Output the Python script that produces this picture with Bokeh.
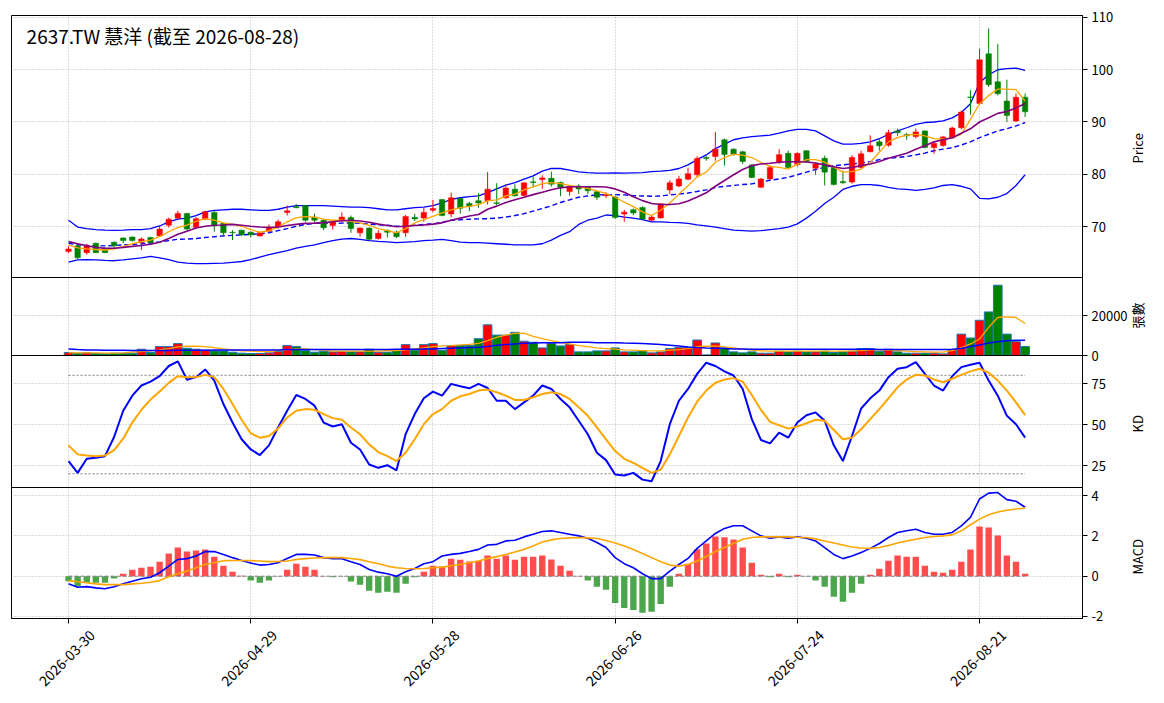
import math
from bokeh.plotting import figure
from bokeh.models import Range1d, FixedTicker, ColumnDataSource, Label, Span, LinearAxis
from bokeh.embed import file_html
from bokeh.resources import INLINE

FONT = "Noto Sans CJK TC"

title_text = "2637.TW 慧洋 (截至 2026-08-28)"
tick_idx = [0, 20, 40, 60, 80, 100]
tick_labels = ["2026-03-30", "2026-04-29", "2026-05-28", "2026-06-26", "2026-07-24", "2026-08-21"]
panel_titles = ["Price", "張數", "KD", "MACD"]

open_ = [65.2, 66.3, 65.0, 66.8, 65.85, 67.0, 67.8, 68.0, 66.9, 67.9,
         68.2, 70.25, 71.6, 72.5, 69.8, 71.4, 72.7, 70.6, 68.9, 69.3,
         68.9, 68.2, 69.1, 69.9, 72.7, 73.8, 74.0, 71.8, 71.2, 70.2,
         71.2, 71.7, 68.8, 69.7, 67.7, 69.25, 68.9, 68.8, 71.75, 71.65,
         73.1, 75.15, 72.4, 75.35, 74.4, 74.95, 74.95, 74.55, 75.5, 77.15,
         75.95, 78.55, 79.0, 79.25, 78.4, 76.7, 77.75, 77.5, 76.65, 75.9,
         75.65, 72.4, 73.2, 73.65, 71.2, 71.65, 77.0, 77.75, 79.05, 79.9,
         83.2, 83.4, 86.6, 84.8, 84.3, 81.75, 77.5, 79.1, 82.3, 84.0,
         81.85, 84.5, 81.15, 83.05, 81.3, 78.6, 78.5, 81.3, 84.3, 86.2,
         85.55, 88.3, 87.6, 87.2, 88.3, 85.1, 85.5, 86.95, 88.9, 94.8,
         93.55, 103.05, 97.7, 94.0, 90.2, 94.75]
high = [66.2, 66.4, 66.7, 66.9, 66.0, 67.1, 67.9, 68.05, 67.9, 68.05,
        70.1, 71.7, 73.0, 72.6, 71.8, 73.0, 73.0, 70.7, 69.3, 69.4,
        69.05, 68.9, 70.4, 71.3, 74.0, 74.3, 74.1, 72.45, 71.45, 71.3,
        72.7, 72.1, 69.8, 69.8, 69.3, 69.45, 69.2, 72.2, 72.45, 73.6,
        75.1, 75.2, 76.5, 75.5, 74.7, 76.35, 80.4, 78.3, 78.1, 78.1,
        78.4, 79.55, 79.8, 80.5, 78.6, 77.8, 78.1, 77.8, 76.85, 76.55,
        75.85, 73.2, 73.45, 73.85, 72.25, 74.45, 78.85, 79.7, 81.25, 83.45,
        83.5, 88.1, 86.85, 84.95, 84.5, 81.95, 79.3, 81.75, 84.8, 84.5,
        84.2, 84.6, 82.3, 83.55, 81.65, 80.7, 83.65, 84.5, 87.45, 86.7,
        88.5, 88.75, 87.95, 88.75, 88.4, 86.2, 87.35, 89.1, 92.2, 96.1,
        104.0, 107.9, 104.95, 98.1, 95.45, 95.45]
low = [64.9, 63.8, 64.6, 64.9, 64.9, 65.85, 66.8, 67.1, 65.5, 66.8,
       68.05, 69.8, 71.45, 69.3, 69.6, 71.2, 69.0, 68.05, 67.4, 68.15,
       67.9, 68.1, 68.95, 69.55, 72.1, 73.5, 70.9, 70.75, 69.3, 69.4,
       70.8, 68.8, 68.05, 67.4, 67.5, 67.9, 67.75, 68.05, 71.05, 70.9,
       72.75, 71.95, 71.8, 72.45, 72.95, 73.6, 74.2, 74.0, 75.3, 75.7,
       75.85, 77.5, 77.2, 77.65, 75.8, 75.9, 76.2, 76.2, 75.1, 75.45,
       71.5, 70.9, 72.15, 71.3, 71.05, 71.5, 76.2, 77.5, 78.85, 79.35,
       82.6, 82.6, 81.65, 83.55, 81.95, 79.25, 77.4, 79.0, 81.95, 81.15,
       81.5, 82.3, 79.9, 77.85, 77.85, 78.2, 78.2, 81.15, 84.2, 84.5,
       85.3, 87.35, 86.6, 86.85, 84.95, 83.9, 85.3, 86.85, 88.6, 91.4,
       93.35, 96.7, 95.1, 90.0, 90.0, 90.95]
close = [65.7, 64.0, 66.3, 65.0, 65.0, 66.3, 67.3, 67.3, 67.6, 66.9,
         69.5, 71.4, 72.5, 69.5, 71.5, 72.8, 70.1, 68.8, 68.8, 68.4,
         68.4, 68.8, 69.9, 70.9, 73.0, 73.6, 71.2, 71.2, 69.75, 70.9,
         71.8, 69.6, 69.7, 67.55, 68.7, 68.9, 68.05, 71.9, 71.45, 72.7,
         73.45, 72.1, 75.5, 73.5, 73.85, 74.5, 77.15, 74.4, 77.35, 75.9,
         78.35, 78.4, 79.3, 78.1, 77.5, 77.6, 77.2, 76.85, 75.6, 76.1,
         71.7, 72.75, 72.6, 71.45, 71.8, 74.35, 78.35, 79.1, 80.1, 83.0,
         83.0, 84.8, 83.8, 83.8, 82.45, 79.4, 79.1, 81.3, 83.75, 81.3,
         84.0, 82.45, 81.95, 80.4, 78.05, 78.35, 83.2, 83.9, 85.45, 85.45,
         87.95, 87.95, 87.35, 88.1, 85.1, 85.9, 87.15, 88.85, 91.9, 94.7,
         101.9, 97.15, 95.4, 91.25, 94.75, 91.95]

ma5 = [66.5, 65.9, 65.7, 65.6, 65.5, 65.7, 66.2, 66.7, 67.1, 67.4,
       68.05, 69.0, 69.8, 70.25, 71.0, 71.5, 71.2, 70.7, 70.4, 70.05,
       69.4, 68.9, 69.2, 69.9, 70.9, 71.7, 71.9, 71.8, 71.4, 71.2,
       71.2, 71.0, 70.7, 70.2, 69.6, 69.2, 68.8, 69.6, 70.7, 71.3,
       71.95, 72.6, 73.2, 73.6, 73.85, 74.2, 74.9, 75.1, 75.85, 76.2,
       77.0, 77.6, 78.2, 78.4, 78.2, 77.85, 77.6, 77.3, 76.8, 76.35,
       75.6, 74.65, 73.8, 72.8, 72.1, 73.1, 74.5, 76.2, 77.8, 79.5,
       80.4, 82.3, 83.2, 83.85, 83.65, 83.2, 82.3, 81.5, 81.3, 81.0,
       81.95, 82.8, 82.8, 82.3, 81.35, 80.4, 80.5, 81.0, 82.3, 84.2,
       86.2, 87.0, 87.5, 87.65, 87.35, 86.8, 86.7, 87.0, 87.65, 90.5,
       93.5, 95.05, 96.3, 96.3, 96.2, 94.0]
ma10 = [67.1, 66.7, 66.3, 66.0, 65.85, 65.85, 66.0, 66.2, 66.35, 66.6,
        67.0, 67.7, 68.5, 69.1, 69.7, 70.05, 70.25, 70.3, 70.4, 70.25,
        70.05, 69.9, 69.8, 69.9, 70.2, 70.4, 70.6, 70.65, 70.75, 70.9,
        71.1, 71.2, 71.05, 70.8, 70.45, 70.2, 69.95, 70.05, 70.2, 70.3,
        70.45, 70.7, 71.2, 71.6, 72.0, 72.3, 73.3, 73.9, 74.6, 75.1,
        75.6, 76.1, 76.55, 77.05, 77.4, 77.6, 77.6, 77.6, 77.6, 77.55,
        77.2, 76.55, 75.7, 74.95, 74.4, 74.2, 74.2, 74.35, 74.9, 75.65,
        76.45, 77.7, 78.8, 79.9, 80.9, 81.65, 81.95, 82.1, 82.3, 82.4,
        82.4, 82.35, 82.15, 81.8, 81.45, 81.1, 81.3, 81.65, 81.95, 82.45,
        83.05, 83.55, 84.0, 84.8, 85.45, 86.2, 86.6, 87.0, 87.85, 88.7,
        90.0, 90.8, 91.65, 92.0, 92.7, 93.55]
ma20 = [66.8, 66.5, 66.35, 66.3, 66.3, 66.35, 66.5, 66.55, 66.7, 66.85,
        67.05, 67.3, 67.55, 67.6, 67.7, 67.9, 68.05, 68.2, 68.3, 68.4,
        68.5, 68.6, 68.8, 69.2, 69.6, 70.05, 70.4, 70.6, 70.6, 70.6,
        70.65, 70.7, 70.6, 70.45, 70.35, 70.25, 70.05, 70.1, 70.25, 70.4,
        70.5, 70.8, 71.2, 71.3, 71.4, 71.45, 71.5, 71.6, 71.8, 72.1,
        72.45, 72.95, 73.45, 73.95, 74.6, 75.1, 75.6, 75.85, 76.05, 76.1,
        76.1, 76.05, 75.9, 75.85, 75.8, 75.85, 76.05, 76.2, 76.4, 76.7,
        77.0, 77.45, 77.7, 77.85, 78.05, 78.15, 78.5, 78.85, 79.1, 79.4,
        79.9, 80.4, 80.9, 81.35, 81.65, 81.8, 81.95, 82.15, 82.4, 82.8,
        83.05, 83.2, 83.4, 83.7, 84.05, 84.5, 84.8, 85.1, 85.6, 86.2,
        87.0, 87.65, 88.3, 88.7, 89.25, 89.9]
bb_upper = [71.2, 69.9, 69.6, 69.4, 69.3, 69.25, 69.3, 69.4, 69.4, 69.6,
            70.1, 70.9, 71.4, 71.6, 72.1, 72.8, 73.1, 73.2, 73.3, 73.3,
            73.2, 73.1, 73.1, 73.3, 73.7, 74.0, 74.0, 74.0, 74.0, 73.9,
            73.8, 73.7, 73.7, 73.6, 73.4, 73.2, 73.2, 73.4, 73.6, 73.7,
            74.0, 74.5, 75.2, 75.5, 75.7, 75.85, 76.5, 77.2, 77.9, 78.4,
            79.05, 79.7, 80.6, 81.1, 81.1, 80.8, 80.45, 80.3, 80.2, 80.2,
            80.25, 80.2, 80.25, 80.3, 80.5, 80.6, 80.75, 81.1, 81.8, 82.8,
            83.7, 84.9, 85.75, 86.6, 86.95, 87.2, 87.35, 87.5, 87.85, 88.3,
            88.6, 88.6, 88.3, 87.35, 86.4, 85.75, 85.75, 85.9, 86.2, 86.8,
            87.65, 88.3, 88.9, 89.55, 89.9, 90.0, 90.2, 90.8, 91.8, 93.5,
            97.5, 99.05, 100.0, 100.2, 100.3, 99.9]
bb_lower = [63.2, 63.6, 63.65, 63.6, 63.5, 63.45, 63.6, 63.8, 64.0, 64.3,
            64.0, 63.65, 63.2, 63.0, 62.9, 62.9, 62.95, 63.0, 63.15, 63.3,
            63.65, 64.15, 64.6, 65.0, 65.4, 65.85, 66.2, 66.5, 66.9, 67.3,
            67.6, 67.7, 67.55, 67.3, 67.15, 67.05, 66.9, 67.0, 67.1, 67.3,
            67.4, 67.55, 67.3, 67.0, 66.9, 66.9, 66.8, 66.7, 66.6, 66.5,
            66.5, 66.5, 66.7, 67.4, 68.3, 69.0, 70.4, 71.2, 71.6, 72.2,
            72.1, 71.8, 71.6, 71.3, 70.9, 70.9, 70.8, 70.75, 70.6, 70.3,
            70.1, 69.9, 69.6, 69.3, 69.2, 69.1, 69.2, 69.4, 69.6, 69.9,
            70.5, 71.6, 72.9, 74.4, 75.6, 77.1, 77.7, 78.0, 78.0, 77.85,
            77.5, 77.2, 77.1, 76.9, 77.1, 77.4, 77.85, 78.0, 77.7, 77.2,
            75.4, 75.3, 75.6, 76.3, 77.85, 79.9]

volume = [1500, 1170, 1330, 1000, 830, 1170, 1170, 1170, 3170, 1500,
          4500, 4500, 6000, 3670, 3170, 2670, 2330, 2330, 1670, 1170,
          1000, 1000, 1330, 2000, 5000, 4500, 2670, 1670, 2170, 1830,
          2000, 1830, 1830, 3170, 1670, 1670, 2670, 5500, 2670, 5500,
          6000, 2670, 5000, 5000, 5000, 8500, 15500, 10300, 10300, 11700,
          7200, 6700, 3830, 6170, 4830, 5500, 1830, 1830, 2330, 2330,
          3830, 1830, 1830, 2330, 1330, 1830, 3500, 4000, 4000, 7830,
          300, 6330, 3830, 1830, 1330, 1830, 1170, 1170, 2170, 1830,
          2170, 1830, 1830, 2170, 1500, 1830, 2170, 3500, 3500, 2170,
          3170, 1830, 1170, 1170, 1170, 1170, 830, 2830, 10800, 8830,
          17800, 22000, 35500, 10800, 7000, 4500]
vol_ma5 = [1300, 1300, 1300, 1300, 1170, 1170, 1330, 1670, 2000, 2330,
           2830, 3500, 4330, 4670, 4670, 4500, 4000, 3330, 2830, 2330,
           2170, 2000, 2000, 2500, 3000, 3330, 3330, 3000, 2670, 2170,
           2170, 2170, 2170, 2170, 2170, 2500, 2500, 2830, 3330, 3830,
           4500, 4830, 5000, 5330, 5670, 6170, 7500, 9170, 10300, 11200,
           11300, 9670, 8500, 7500, 6670, 5830, 5000, 4500, 3830, 3500,
           3170, 2830, 2670, 2500, 2330, 2330, 2670, 3000, 3500, 4500,
           4670, 4830, 4330, 3830, 3170, 2670, 2330, 2170, 2170, 2170,
           2170, 2170, 2170, 2170, 2170, 2170, 2330, 2500, 2830, 2830,
           2670, 2500, 2170, 2000, 1830, 1670, 1670, 2500, 3830, 5830,
           8330, 14200, 19200, 19500, 19200, 16200]
vol_ma20 = [3330, 3000, 2830, 2830, 2670, 2670, 2670, 2500, 2500, 2500,
            2500, 2500, 2670, 2670, 2670, 2670, 2830, 2830, 2830, 2830,
            2830, 2830, 2830, 2830, 3000, 3000, 3000, 3000, 3000, 3000,
            3000, 3000, 3000, 3000, 3000, 3000, 3170, 3170, 3170, 3330,
            3330, 3500, 3670, 3830, 4000, 4170, 4500, 5170, 5500, 5830,
            6170, 6330, 6500, 6500, 6500, 6670, 6670, 6670, 6500, 6500,
            6500, 6330, 6170, 6000, 5830, 5500, 5170, 4830, 4330, 4000,
            3830, 3670, 3500, 3330, 3330, 3170, 3170, 3170, 3170, 3170,
            3170, 3170, 3170, 3170, 3170, 3170, 3170, 3170, 3170, 3000,
            3000, 3000, 3000, 3000, 3000, 3000, 3000, 3170, 3500, 4500,
            5300, 6330, 7000, 7500, 7670, 7670]

k_line = [27.7, 20.5, 29.1, 29.7, 30.7, 42.4, 58.4, 67.6, 73.8, 76.2,
          79.5, 85.7, 88.5, 77.3, 78.9, 83.6, 76.8, 62.5, 51.2, 41.0,
          34.8, 31.4, 37.3, 48.2, 58.4, 68.0, 65.6, 61.5, 51.2, 48.8,
          50.2, 38.9, 34.8, 25.6, 23.6, 25.2, 22.1, 44.1, 56.4, 66.0,
          70.1, 67.6, 74.8, 73.4, 72.1, 74.8, 72.3, 64.5, 64.5, 59.4,
          63.5, 67.6, 73.8, 71.7, 65.6, 60.5, 52.3, 44.1, 32.8, 28.3,
          19.5, 18.9, 20.5, 16.4, 15.4, 27.7, 50.2, 64.5, 71.7, 80.9,
          87.7, 85.7, 82.4, 79.9, 71.7, 53.3, 40.6, 38.5, 45.1, 42.0,
          51.2, 55.7, 57.4, 52.3, 37.3, 27.7, 43.0, 59.8, 66.0, 70.7,
          78.9, 84.0, 85.0, 88.1, 80.9, 73.8, 70.7, 79.5, 85.0, 86.5,
          87.7, 76.8, 67.6, 55.3, 50.2, 42.0]
d_line = [37.3, 31.8, 31.1, 30.7, 31.1, 34.4, 41.4, 51.2, 59.0, 65.2,
          70.1, 75.4, 79.5, 78.9, 78.9, 80.3, 78.9, 71.7, 62.5, 52.9,
          44.7, 42.0, 43.0, 47.5, 54.3, 58.4, 59.4, 59.0, 56.4, 53.9,
          52.9, 48.2, 44.1, 37.9, 33.2, 30.7, 27.7, 32.8, 41.0, 50.2,
          56.4, 59.4, 64.5, 67.2, 68.6, 70.7, 71.3, 69.7, 67.6, 65.0,
          65.0, 66.6, 68.6, 69.7, 68.6, 65.6, 60.5, 55.3, 48.2, 41.0,
          33.8, 29.1, 26.6, 23.6, 20.5, 22.5, 31.8, 43.0, 54.3, 63.9,
          70.7, 75.4, 77.5, 78.3, 76.2, 68.0, 59.0, 51.6, 49.6, 47.5,
          48.8, 50.8, 52.9, 52.3, 46.7, 41.0, 42.0, 47.1, 53.3, 59.4,
          66.0, 72.7, 77.5, 80.3, 79.9, 77.5, 75.8, 77.9, 80.3, 82.4,
          84.0, 81.6, 76.8, 70.7, 63.5, 55.7]

dif = [-0.38, -0.55, -0.52, -0.58, -0.62, -0.52, -0.38, -0.25, -0.13, -0.05,
       0.17, 0.50, 0.83, 0.87, 1.00, 1.22, 1.22, 1.08, 0.92, 0.78,
       0.65, 0.55, 0.58, 0.67, 0.88, 1.08, 1.08, 1.05, 0.92, 0.87,
       0.87, 0.72, 0.58, 0.33, 0.20, 0.12, 0.00, 0.22, 0.38, 0.62,
       0.72, 1.00, 1.08, 1.13, 1.22, 1.33, 1.55, 1.58, 1.75, 1.78,
       1.95, 2.08, 2.22, 2.25, 2.17, 2.08, 2.00, 1.88, 1.67, 1.42,
       0.92, 0.62, 0.42, 0.12, -0.12, -0.12, 0.25, 0.58, 0.88, 1.38,
       1.75, 2.12, 2.37, 2.50, 2.50, 2.25, 2.00, 1.88, 1.95, 1.88,
       1.95, 1.88, 1.75, 1.42, 1.08, 0.87, 1.00, 1.17, 1.38, 1.62,
       1.92, 2.17, 2.25, 2.33, 2.17, 2.08, 2.08, 2.17, 2.50, 2.92,
       3.83, 4.12, 4.15, 3.80, 3.72, 3.42]
signal = [-0.22, -0.28, -0.33, -0.38, -0.42, -0.42, -0.42, -0.38, -0.35, -0.30,
          -0.22, -0.03, 0.12, 0.25, 0.42, 0.58, 0.67, 0.77, 0.78, 0.78,
          0.77, 0.75, 0.72, 0.73, 0.75, 0.83, 0.87, 0.90, 0.92, 0.92,
          0.92, 0.88, 0.82, 0.72, 0.62, 0.50, 0.42, 0.38, 0.37, 0.38,
          0.42, 0.45, 0.52, 0.58, 0.67, 0.75, 0.87, 0.97, 1.08, 1.20,
          1.33, 1.50, 1.70, 1.80, 1.87, 1.90, 1.92, 1.90, 1.87, 1.77,
          1.65, 1.50, 1.32, 1.12, 0.92, 0.72, 0.55, 0.50, 0.58, 0.75,
          0.98, 1.22, 1.42, 1.63, 1.83, 1.92, 1.95, 1.95, 1.95, 1.95,
          1.93, 1.92, 1.85, 1.75, 1.65, 1.55, 1.45, 1.40, 1.38, 1.42,
          1.52, 1.65, 1.75, 1.83, 1.92, 1.97, 2.00, 2.05, 2.25, 2.55,
          2.83, 3.05, 3.18, 3.27, 3.33, 3.38]
hist = [-0.25, -0.5, -0.33, -0.33, -0.32, -0.12, 0.12, 0.32, 0.42, 0.47,
        0.72, 1.12, 1.42, 1.22, 1.27, 1.32, 0.97, 0.52, 0.22, 0.02,
        -0.22, -0.32, -0.22, -0.02, 0.32, 0.62, 0.47, 0.32, 0.01, -0.05,
        -0.02, -0.27, -0.42, -0.72, -0.82, -0.77, -0.82, -0.37, -0.05, 0.22,
        0.52, 0.48, 0.87, 0.82, 0.73, 0.77, 1.02, 0.87, 1.02, 0.82,
        0.97, 0.97, 1.02, 0.83, 0.52, 0.27, 0.01, -0.22, -0.53, -0.67,
        -1.33, -1.58, -1.68, -1.82, -1.77, -1.38, -0.53, 0.12, 0.62, 1.33,
        1.62, 1.97, 1.93, 1.82, 1.42, 0.67, 0.07, -0.05, 0.12, -0.05,
        0.07, -0.02, -0.22, -0.53, -1.02, -1.27, -0.82, -0.37, 0.07, 0.37,
        0.77, 1.02, 0.97, 0.97, 0.52, 0.22, 0.17, 0.32, 0.72, 1.32,
        2.47, 2.42, 2.02, 1.02, 0.72, 0.12]

kd_ref_high = 80
kd_ref_low = 20

# panel tick values and labels
price_ticks = [70, 80, 90, 100, 110]
vol_ticks = [0, 20000]
kd_ticks = [25, 50, 75]
macd_ticks = [-2, 0, 2, 4]

n = len(close)
idx = list(range(n))
up = [c >= o for o, c in zip(open_, close)]
ccol = ["red" if u else "green" for u in up]

src = ColumnDataSource(dict(
    x=idx, o=open_, h=high, l=low, c=close,
    bt=[max(a, b) for a, b in zip(open_, close)],
    bb=[min(a, b) for a, b in zip(open_, close)],
    col=ccol, vol=volume, ma5=ma5, ma10=ma10, ma20=ma20,
    bbu=bb_upper, bbl=bb_lower, vma5=vol_ma5, vma20=vol_ma20,
    k=k_line, d=d_line, dif=dif, sig=signal, hist=hist,
    hcol=["red" if v >= 0 else "green" for v in hist],
    kh=[kd_ref_high] * n, kl=[kd_ref_low] * n, zero=[0] * n,
))

# ---- layout: one frame, four stacked panels (heights in px, bottom-up)
FRAME_H = 603
panels = {
    # name: (bottom px, top px, value at bottom, value at top)
    "price": (341, 603, 60.24, 110.38),
    "vol": (263, 341, 0.0, 39400.0),
    "kd": (131, 263, 11.6, 92.1),
    "macd": (0, 131, -2.1, 4.4),
}
# where each panel's title starts along the right edge (px from frame bottom)
title_pos = [455, 290, 186, 44]


def panel_range(name):
    u0, u1, v0, v1 = panels[name]
    s = (v1 - v0) / (u1 - u0)
    return Range1d(v0 - u0 * s, v1 + (FRAME_H - u1) * s)


def to_units(name, v):
    u0, u1, v0, v1 = panels[name]
    return round(u0 + (v - v0) * (u1 - u0) / (v1 - v0), 3)


p = figure(width=1164, height=700, x_range=Range1d(-6.26, 111.3),
           y_range=Range1d(0, FRAME_H), output_backend="svg",
           toolbar_location=None, y_axis_location="right", min_border=0,
           min_border_left=11, min_border_right=82, min_border_top=15,
           min_border_bottom=82)
p.extra_y_ranges = {name: panel_range(name) for name in panels}
p.outline_line_color = "black"
p.outline_line_alpha = 1.0

ytick_pos = []
ytick_lab = {}
for name, vals in [("price", price_ticks), ("vol", vol_ticks),
                   ("kd", kd_ticks), ("macd", macd_ticks)]:
    for v in vals:
        u = to_units(name, v)
        ytick_pos.append(u)
        ytick_lab[u] = str(v)

p.xaxis.ticker = FixedTicker(ticks=tick_idx)
p.xgrid.ticker = FixedTicker(ticks=tick_idx)
p.yaxis.ticker = FixedTicker(ticks=ytick_pos)
p.ygrid.ticker = FixedTicker(ticks=ytick_pos)
p.grid.grid_line_color = "#b0b0b0"
p.grid.grid_line_dash = "1 2"
p.grid.grid_line_width = 0.9

ya = p.yaxis[0]
ya.major_label_overrides = ytick_lab
ya.major_label_text_font = FONT
ya.major_label_text_font_size = "13px"
ya.major_label_text_color = "black"
ya.major_label_standoff = 4
ya.major_tick_out = 5
ya.major_tick_in = 0
ya.minor_tick_out = 0
ya.minor_tick_in = 0
ya.axis_line_color = "black"

# panel titles: a label-only axis outside the tick labels
ya2 = LinearAxis(ticker=FixedTicker(ticks=title_pos),
                 major_label_overrides={pp: t for pp, t in zip(title_pos, panel_titles)},
                 major_label_orientation=math.pi / 2,
                 major_label_text_font=FONT, major_label_text_font_size="13px",
                 major_label_text_color="black", major_label_standoff=7,
                 major_tick_out=0, major_tick_in=0, minor_tick_out=0,
                 minor_tick_in=0, axis_line_color=None)
p.add_layout(ya2, "right")

xa = p.xaxis[0]
xa.major_label_overrides = {i: "" for i in tick_idx}
xa.major_label_standoff = 0
xa.major_tick_out = 5
xa.major_tick_in = 0
xa.minor_tick_out = 0
xa.minor_tick_in = 0
xa.axis_line_color = "black"

# date labels: a label-only axis (rotated, centred under each tick)
lab_pos = [round(t + 2.6, 2) for t in tick_idx]
xa2 = LinearAxis(ticker=FixedTicker(ticks=lab_pos),
                 major_label_overrides={pp: lab for pp, lab in zip(lab_pos, tick_labels)},
                 major_label_orientation=math.pi / 4,
                 major_label_text_font=FONT, major_label_text_font_size="14px",
                 major_label_text_color="black", major_label_standoff=9,
                 major_tick_out=0, major_tick_in=0, minor_tick_out=0,
                 minor_tick_in=0, axis_line_color=None)
p.add_layout(xa2, "below")

# panel borders
for u in (131, 263, 341):
    p.add_layout(Span(location=u, dimension="width", line_color="black",
                      line_width=1))

# ---- price panel
p.line("x", "bbu", source=src, color="blue", line_width=1.3, y_range_name="price")
p.line("x", "bbl", source=src, color="blue", line_width=1.3, y_range_name="price")
p.line("x", "ma20", source=src, color="blue", line_width=1.4, line_dash="5 3",
       y_range_name="price")
p.segment(x0="x", y0="l", x1="x", y1="h", source=src, color="col",
          line_width=1, y_range_name="price")
p.vbar(x="x", width=0.6, top="bt", bottom="bb", source=src, fill_color="col",
       line_color="col", line_width=0.5, y_range_name="price")
p.line("x", "ma5", source=src, color="orange", line_width=1.3, y_range_name="price")
p.line("x", "ma10", source=src, color="purple", line_width=1.6, y_range_name="price")

# ---- volume panel
p.vbar(x="x", width=0.95, top="vol", bottom=0, source=src, fill_color="col",
       line_color="#1f77b4", line_width=1, y_range_name="vol")
p.line("x", "vma5", source=src, color="orange", line_width=1.3, y_range_name="vol")
p.line("x", "vma20", source=src, color="blue", line_width=1.5, y_range_name="vol")

# ---- KD panel
p.line("x", "kh", source=src, color="gray", line_width=1, line_dash="2 2",
       y_range_name="kd")
p.line("x", "kl", source=src, color="gray", line_width=1, line_dash="2 2",
       y_range_name="kd")
p.line("x", "k", source=src, color="blue", line_width=2, y_range_name="kd")
p.line("x", "d", source=src, color="orange", line_width=2, y_range_name="kd")

# ---- MACD panel
p.vbar(x="x", width=0.7, top="hist", bottom=0, source=src, fill_color="hcol",
       line_color=None, fill_alpha=0.7, y_range_name="macd")
p.line("x", "zero", source=src, color="gray", line_width=1, line_dash="4 2",
       y_range_name="macd")
p.line("x", "dif", source=src, color="blue", line_width=1.6, y_range_name="macd")
p.line("x", "sig", source=src, color="orange", line_width=1.6, y_range_name="macd")

# ---- title inside the price panel
p.add_layout(Label(x=-4.6, y=583, text=title_text, text_font=FONT,
                   text_font_size="19px", text_baseline="middle",
                   text_align="left", text_color="black"))

open("out.html", "w").write(file_html(p, INLINE))
